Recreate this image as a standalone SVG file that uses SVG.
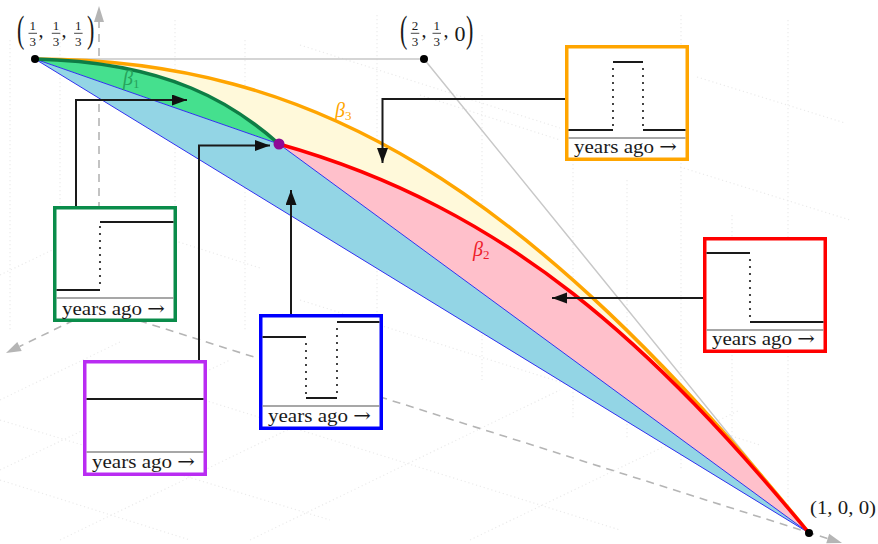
<svg xmlns="http://www.w3.org/2000/svg" width="878" height="544" viewBox="0 0 878 544">
<style>
.grid{stroke:#ebebeb;stroke-width:1.2;stroke-dasharray:1.2 2.8;fill:none}
.axis{stroke:#b5b5b5;stroke-width:1.6;stroke-dasharray:8 6;fill:none}
.axhead{fill:#b5b5b5}
.edge{stroke:#c8c8c8;stroke-width:1.5;fill:none}
.bl{stroke:#3030f0;stroke-width:1;fill:none}
.conn{stroke:#1a1a1a;stroke-width:2;fill:none;marker-end:url(#ah)}
.box{fill:#fff;stroke-width:3.5}
.sep{stroke:#8a8a8a;stroke-width:1.5}
.step{stroke:#1a1a1a;stroke-width:2;fill:none}
.dot{stroke:#1a1a1a;stroke-width:2.2;stroke-dasharray:0 7;stroke-linecap:round;fill:none}
.lbl{font-family:"Liberation Serif","DejaVu Serif",serif;font-size:19.5px;fill:#1a1a1a}
.arr{font-family:"DejaVu Serif",serif}
.m{font-family:"Liberation Serif","DejaVu Serif",serif;fill:#1a1a1a}
.fr{font-size:13px;text-anchor:middle}
.bar{stroke:#1a1a1a;stroke-width:0.8}
.beta{font-family:"Liberation Serif","DejaVu Serif",serif;font-size:20px;font-style:italic}
.sub{font-size:13px;font-style:normal}
</style>
<defs>
<marker id="ah" markerUnits="userSpaceOnUse" markerWidth="16" markerHeight="12" refX="15" refY="5.5" orient="auto"><path d="M0,0 L15,5.5 L0,11 Z" fill="#111"/></marker>
</defs>
<rect width="878" height="544" fill="#fff"/>
<g id="grid">
<path class="grid" d="M10,40 V330 M60,30 V320 M175,20 V300 M245,40 V330 M377,15 V340 M482,35 V380 M573,80 V420 M627,180 V440 M681,15 V470 M732,215 V480 M788,20 V520"/>
<path class="grid" d="M300,45 L560,128 M697,77 L845,123 M680,167 L850,220 M420,95 L560,140 M110,220 L260,268 M0,420 L330,520 M0,480 L190,540 M140,380 L620,530 M300,300 L760,445"/>
<path class="grid" d="M0,400 L120,342 M0,470 L230,360 M60,540 L380,385 M250,540 L560,390 M470,540 L740,410 M0,275 L90,232"/>
</g>
<g id="axes">
<path class="axis" d="M99,308 V22 M99,308 L19.5,346.5 M99,308 L827.7,538.5"/>
<polygon class="axhead" points="99,6 104,22 94,22"/>
<polygon class="axhead" points="6,353 21.7,351 17.3,342"/>
<polygon class="axhead" points="842,543 826.2,543.3 829.2,533.7"/>
</g>
<g id="simplex-edges">
<path class="edge" d="M35,59 H424 L809,533"/>
</g>
<g id="regions">
<path id="region-beta3" d="M35,59 C312,59 525.5,183.8 809,533 Z" fill="#fff9da"/>
<path id="region-beta2" d="M279,144 C510,209 655,348 809,533 Z" fill="#ffc0cb"/>
<path id="region-beta1" d="M35,59 C170,62 235,105 279,144 Z" fill="#45e08e"/>
<path id="region-mid" d="M35,59 L279,144 L809,533 Z" fill="#93d5e5"/>
<path class="bl" d="M35,59 L279,144 L809,533 Z"/>
</g>
<g id="curves">
<path id="beta3" d="M35,59 C312,59 525.5,183.8 809,533" fill="none" stroke="#ffa500" stroke-width="3.5"/>
<path id="beta2" d="M279,144 C510,209 655,348 809,533" fill="none" stroke="#ff0000" stroke-width="3.5"/>
<path id="beta1" d="M35,59 C170,62 235,105 279,144" fill="none" stroke="#0e7d45" stroke-width="3.5"/>
<text class="beta" x="123" y="85" fill="#27a35c">β<tspan class="sub" dy="3">1</tspan></text>
<text class="beta" x="335" y="117" fill="#ffa500">β<tspan class="sub" dy="3">3</tspan></text>
<text class="beta" x="473" y="256" fill="#ee1c2a">β<tspan class="sub" dy="3">2</tspan></text>
</g>
<g id="vertices">
<circle cx="35" cy="59" r="4" fill="#000"/>
<circle cx="424" cy="59" r="4" fill="#000"/>
<circle cx="809" cy="533" r="4" fill="#000"/>
<circle cx="279" cy="144" r="5.5" fill="#8e0a96"/>
</g>
<g id="vertex-labels">
<g id="label-p1">
<text class="m" font-size="22" transform="translate(17,42) scale(1,1.75)">(</text>
<text class="m fr" x="32.7" y="30">1</text><line class="bar" x1="28.5" y1="33.3" x2="37" y2="33.3"/><text class="m fr" x="32.7" y="46">3</text>
<text class="m" font-size="20" x="38.5" y="37">,</text>
<text class="m fr" x="56" y="30">1</text><line class="bar" x1="51.8" y1="33.3" x2="60.3" y2="33.3"/><text class="m fr" x="56" y="46">3</text>
<text class="m" font-size="20" x="61.5" y="37">,</text>
<text class="m fr" x="78.3" y="30">1</text><line class="bar" x1="74.1" y1="33.3" x2="82.6" y2="33.3"/><text class="m fr" x="78.3" y="46">3</text>
<text class="m" font-size="22" transform="translate(87,42) scale(1,1.75)">)</text>
</g>
<g id="label-p2">
<text class="m" font-size="22" transform="translate(400,42) scale(1,1.75)">(</text>
<text class="m fr" x="415" y="30">2</text><line class="bar" x1="410.8" y1="33.3" x2="419.3" y2="33.3"/><text class="m fr" x="415" y="46">3</text>
<text class="m" font-size="20" x="421.5" y="37">,</text>
<text class="m fr" x="436.7" y="30">1</text><line class="bar" x1="432.5" y1="33.3" x2="441" y2="33.3"/><text class="m fr" x="436.7" y="46">3</text>
<text class="m" font-size="20" x="443.5" y="37">,</text>
<text class="m" font-size="22" x="460" y="40.5" text-anchor="middle">0</text>
<text class="m" font-size="22" transform="translate(466,42) scale(1,1.75)">)</text>
</g>
<text id="label-p3" class="m" font-size="19" x="810" y="514" textLength="66" lengthAdjust="spacingAndGlyphs">(1, 0, 0)</text>
</g>
<g id="connectors">
<path class="conn" d="M76,206 V100 H187"/>
<path class="conn" d="M199,360 V145.5 H270"/>
<path class="conn" d="M291,314 V190"/>
<path class="conn" d="M565,99 H382.5 V163"/>
<path class="conn" d="M703,298 H552"/>
</g>
<g id="box-green">
<rect class="box" x="54.75" y="207.75" width="120.5" height="112.5" stroke="#0a8c4a"/>
<path class="step" d="M56.5,290 H100 M100,222 H173.5"/>
<path class="dot" d="M100,283 V222"/>
<line class="sep" x1="56.5" y1="298" x2="173.5" y2="298"/>
<text class="lbl" x="62" y="315" textLength="103" lengthAdjust="spacingAndGlyphs">years ago <tspan class="arr">→</tspan></text>
</g>
<g id="box-purple">
<rect class="box" x="84.75" y="361.75" width="120.5" height="112.5" stroke="#b92cf2"/>
<path class="step" d="M86.5,399 H203.5"/>
<line class="sep" x1="86.5" y1="452" x2="203.5" y2="452"/>
<text class="lbl" x="92" y="468" textLength="103" lengthAdjust="spacingAndGlyphs">years ago <tspan class="arr">→</tspan></text>
</g>
<g id="box-blue">
<rect class="box" x="260.75" y="315.75" width="120.5" height="112.5" stroke="#0000ff"/>
<path class="step" d="M262.5,337 H306 M306,398 H337 M337,322 H379.5"/>
<path class="dot" d="M306,344 V398 M337,329 V398"/>
<line class="sep" x1="262.5" y1="406" x2="379.5" y2="406"/>
<text class="lbl" x="268" y="422" textLength="103" lengthAdjust="spacingAndGlyphs">years ago <tspan class="arr">→</tspan></text>
</g>
<g id="box-orange">
<rect class="box" x="566.75" y="46.75" width="120.5" height="112.5" stroke="#ffa500"/>
<path class="step" d="M568.5,130 H613 M613,62 H643 M643,130 H685.5"/>
<path class="dot" d="M613,69 V130 M643,69 V130"/>
<line class="sep" x1="568.5" y1="138" x2="685.5" y2="138"/>
<text class="lbl" x="574" y="153" textLength="103" lengthAdjust="spacingAndGlyphs">years ago <tspan class="arr">→</tspan></text>
</g>
<g id="box-red">
<rect class="box" x="704.75" y="238.75" width="120.5" height="112.5" stroke="#ff0000"/>
<path class="step" d="M706.5,253 H750 M750,322 H823.5"/>
<path class="dot" d="M750,260 V322"/>
<line class="sep" x1="706.5" y1="330" x2="823.5" y2="330"/>
<text class="lbl" x="712" y="345" textLength="103" lengthAdjust="spacingAndGlyphs">years ago <tspan class="arr">→</tspan></text>
</g>
</svg>
